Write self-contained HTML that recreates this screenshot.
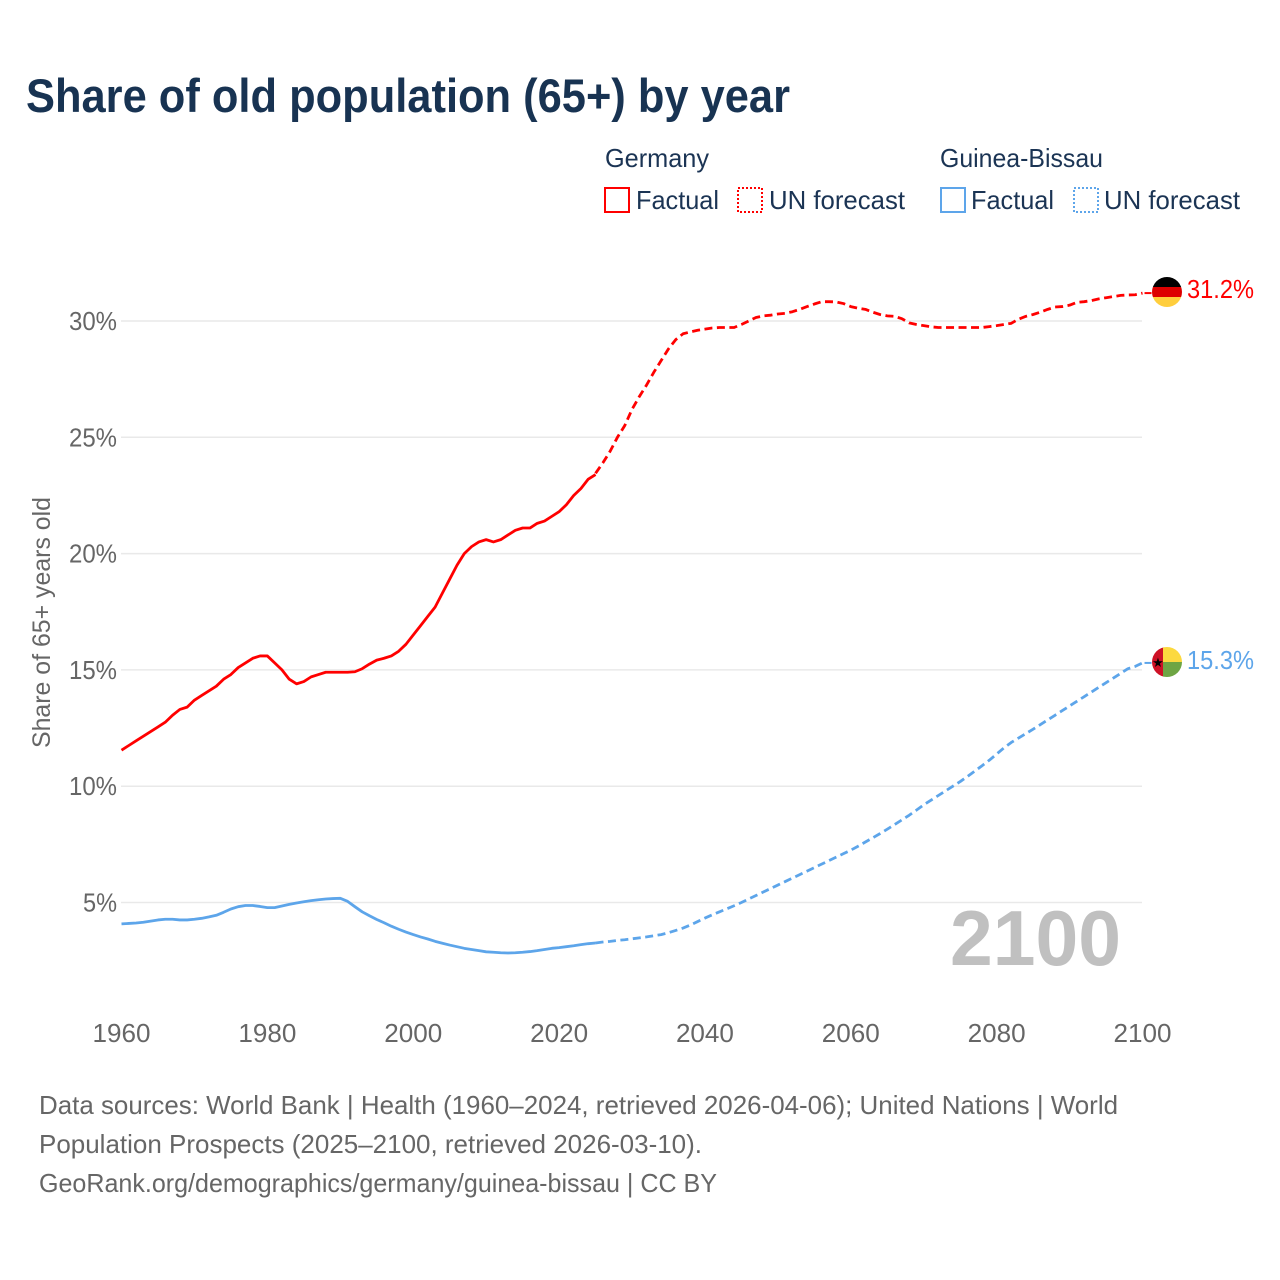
<!DOCTYPE html>
<html lang="en">
<head>
<meta charset="utf-8">
<title>Share of old population (65+) by year</title>
<style>
html,body{margin:0;padding:0;background:#fff;}
svg{display:block;font-family:"Liberation Sans",sans-serif;}
</style>
</head>
<body>
<svg id="chart" xmlns="http://www.w3.org/2000/svg" width="1280" height="1280" viewBox="0 0 1280 1280">
  <defs>
    <clipPath id="flag-clip-de"><circle cx="1167" cy="292" r="15"/></clipPath>
    <clipPath id="flag-clip-gw"><circle cx="1167" cy="662" r="15"/></clipPath>
  </defs>
  <rect x="0" y="0" width="1280" height="1280" fill="#fff"/>
  <text x="26" y="112" font-size="47" font-weight="700" fill="#183352" textLength="764" lengthAdjust="spacingAndGlyphs">Share of old population (65+) by year</text>

  <g font-size="26" fill="#1b3454">
    <text x="605" y="167" textLength="104" lengthAdjust="spacingAndGlyphs">Germany</text>
    <rect x="605" y="188" width="24" height="24" fill="none" stroke="#ff0000" stroke-width="2" shape-rendering="crispEdges"/>
    <text x="636" y="209" textLength="83" lengthAdjust="spacingAndGlyphs">Factual</text>
    <rect x="738" y="188" width="24" height="24" fill="none" stroke="#ff0000" stroke-width="2" stroke-dasharray="2 2" shape-rendering="crispEdges"/>
    <text x="769" y="209" textLength="136" lengthAdjust="spacingAndGlyphs">UN forecast</text>
    <text x="940" y="167" textLength="163" lengthAdjust="spacingAndGlyphs">Guinea-Bissau</text>
    <rect x="941" y="188" width="24" height="24" fill="none" stroke="#5da5ea" stroke-width="2" shape-rendering="crispEdges"/>
    <text x="971" y="209" textLength="83" lengthAdjust="spacingAndGlyphs">Factual</text>
    <rect x="1074" y="188" width="24" height="24" fill="none" stroke="#5da5ea" stroke-width="2" stroke-dasharray="2 2" shape-rendering="crispEdges"/>
    <text x="1104" y="209" textLength="136" lengthAdjust="spacingAndGlyphs">UN forecast</text>
  </g>

  <g id="grid"></g>
  <g id="yticks"></g>
  <g id="xticks"></g>
  <text transform="translate(50,748) rotate(-90)" font-size="25" fill="#666" textLength="251" lengthAdjust="spacingAndGlyphs">Share of 65+ years old</text>
  <text x="950" y="965" font-size="78" font-weight="700" fill="#c0c0c0" textLength="171" lengthAdjust="spacingAndGlyphs">2100</text>
  <g id="series"></g>

  <g clip-path="url(#flag-clip-de)">
    <rect x="1152" y="277" width="30" height="10" fill="#000"/>
    <rect x="1152" y="287" width="30" height="10" fill="#dd0000"/>
    <rect x="1152" y="297" width="30" height="10" fill="#ffce3d"/>
  </g>
  <g clip-path="url(#flag-clip-gw)">
    <rect x="1152" y="647" width="12" height="30" fill="#ce1126"/>
    <rect x="1163" y="647" width="19" height="15" fill="#fcd93f"/>
    <rect x="1163" y="662" width="19" height="15" fill="#6ea544"/>
    <text x="1158" y="667" font-size="13" text-anchor="middle" fill="#000" font-family="'DejaVu Sans',sans-serif">★</text>
  </g>
  <text id="label-de" x="1187" y="298" font-size="26" fill="#ff0000" textLength="67" lengthAdjust="spacingAndGlyphs"></text>
  <text id="label-gw" x="1187" y="669" font-size="26" fill="#5da5ea" textLength="67" lengthAdjust="spacingAndGlyphs"></text>

  <g font-size="26" fill="#666">
    <text x="39" y="1114" textLength="1079" lengthAdjust="spacingAndGlyphs">Data sources: World Bank | Health (1960–2024, retrieved 2026-04-06); United Nations | World</text>
    <text x="39" y="1153" textLength="663" lengthAdjust="spacingAndGlyphs">Population Prospects (2025–2100, retrieved 2026-03-10).</text>
    <text x="39" y="1192" textLength="678" lengthAdjust="spacingAndGlyphs">GeoRank.org/demographics/germany/guinea-bissau | CC BY</text>
  </g>
</svg>

<script>
const yTickValues = [5, 10, 15, 20, 25, 30];
const xTickYears = [1960, 1980, 2000, 2020, 2040, 2060, 2080, 2100];
const factualStartYear = 1960;
const forecastStartYear = 2025;

const germanyFactual = [
  11.55,11.75,11.95,12.15,12.35,12.55,12.75,13.05,13.3,13.4,
  13.7,13.9,14.1,14.3,14.6,14.8,15.1,15.3,15.5,15.6,
  15.6,15.3,15.0,14.6,14.4,14.5,14.7,14.8,14.9,14.9,
  14.9,14.9,14.92,15.05,15.25,15.42,15.5,15.6,15.8,16.1,
  16.5,16.9,17.3,17.7,18.3,18.9,19.5,20.0,20.3,20.5,
  20.6,20.5,20.6,20.8,21.0,21.1,21.1,21.3,21.4,21.6,
  21.8,22.1,22.5,22.8,23.2,23.4
];
const germanyForecast = [
  23.45,23.9,24.4,25.0,25.5,
  26.2,26.75,27.25,27.8,28.3,28.8,29.2,29.45,29.53,29.6,
  29.65,29.7,29.72,29.72,29.72,29.85,30.0,30.15,30.22,30.25,
  30.3,30.33,30.4,30.5,30.62,30.73,30.83,30.83,30.82,30.75,
  30.62,30.55,30.5,30.38,30.28,30.22,30.2,30.1,29.92,29.85,
  29.8,29.75,29.72,29.72,29.72,29.72,29.72,29.72,29.72,29.76,
  29.8,29.85,29.9,30.08,30.2,30.28,30.38,30.5,30.6,30.62,
  30.68,30.8,30.83,30.88,30.95,31.0,31.05,31.1,31.12,31.13,
  31.2
];
const guineaBissauFactual = [
  4.08,4.1,4.12,4.15,4.2,4.25,4.28,4.28,4.25,4.25,
  4.28,4.32,4.38,4.45,4.58,4.72,4.82,4.87,4.87,4.83,
  4.78,4.78,4.85,4.92,4.98,5.03,5.08,5.12,5.15,5.17,
  5.18,5.05,4.82,4.6,4.43,4.27,4.13,3.98,3.85,3.73,
  3.62,3.52,3.43,3.33,3.25,3.17,3.1,3.03,2.98,2.93,
  2.88,2.86,2.84,2.83,2.84,2.86,2.89,2.93,2.98,3.03,
  3.06,3.1,3.14,3.19,3.23,3.26
];
const guineaBissauForecast = [
  3.26,3.3,3.33,3.37,3.4,
  3.44,3.48,3.52,3.57,3.62,3.7,3.8,3.9,4.03,4.18,
  4.33,4.47,4.6,4.73,4.86,5.0,5.15,5.3,5.45,5.6,
  5.75,5.9,6.05,6.2,6.35,6.5,6.65,6.8,6.95,7.1,
  7.25,7.42,7.6,7.78,7.96,8.15,8.35,8.55,8.75,8.97,
  9.2,9.4,9.6,9.8,10.0,10.2,10.42,10.65,10.88,11.12,
  11.38,11.65,11.88,12.07,12.26,12.45,12.65,12.85,13.05,13.25,
  13.45,13.65,13.85,14.05,14.25,14.45,14.65,14.85,15.05,15.15,
  15.3
];
const germanyEndLabel = "31.2%";
const guineaBissauEndLabel = "15.3%";

const NS = "http://www.w3.org/2000/svg";
const X0 = 121.5, PXPERYEAR = 7.293, Y30 = 321, PXPERPCT = 23.26;
function xScale(year) { return X0 + (year - 1960) * PXPERYEAR; }
function yScale(pct) { return Y30 + (30 - pct) * PXPERPCT; }
function make(tag, attrs) {
  const el = document.createElementNS(NS, tag);
  for (const k in attrs) el.setAttribute(k, attrs[k]);
  return el;
}
const grid = document.getElementById("grid");
const yticks = document.getElementById("yticks");
yTickValues.forEach(function (v) {
  const line = make("line", { x1: 121, x2: 1142, y1: yScale(v), y2: yScale(v), stroke: "#e9e9e9", "stroke-width": 1.5 });
  
  
  grid.appendChild(line);
  const label = make("text", { x: 117, y: yScale(v) + 9, "font-size": 26, fill: "#666", "text-anchor": "end" });
  
  
  label.setAttribute('textLength', v < 10 ? 34 : 48);
  label.setAttribute('lengthAdjust', 'spacingAndGlyphs');
  label.textContent = v + "%";
  yticks.appendChild(label);
});
const xticks = document.getElementById("xticks");
xTickYears.forEach(function (yr) {
  const label = make("text", { x: xScale(yr), y: 1042, "font-size": 26, fill: "#666", "text-anchor": "middle" });
  
  
  label.setAttribute('textLength', 58);
  label.setAttribute('lengthAdjust', 'spacingAndGlyphs');
  label.textContent = yr;
  xticks.appendChild(label);
});
function pathFrom(values, startYear) {
  return values.map(function (v, i) {
    return (i ? "L" : "M") + xScale(startYear + i).toFixed(2) + " " + yScale(v).toFixed(2);
  }).join("");
}
const series = document.getElementById("series");
function addLine(values, startYear, color, dashed) {
  const attrs = { d: pathFrom(values, startYear), fill: "none", stroke: color, "stroke-width": 2.8, "stroke-linejoin": "round" };
  if (dashed) attrs["stroke-dasharray"] = "8 4.5";
  const p = make("path", attrs);
  
  
  series.appendChild(p);
  return p;
}
function addConnector(values, color) {
  const last = values[values.length - 1];
  const c = make("line", { x1: xScale(2100) + 2, x2: xScale(2100) + 9, y1: yScale(last), y2: yScale(last), stroke: color, "stroke-width": 2 });
  
  
  series.appendChild(c);
}
addLine(germanyFactual, factualStartYear, "#ff0000", false);
addLine(germanyForecast, forecastStartYear, "#ff0000", true);
addConnector(germanyForecast, "#ff0000");
addLine(guineaBissauFactual, factualStartYear, "#5da5ea", false);
addLine(guineaBissauForecast, forecastStartYear, "#5da5ea", true);
addConnector(guineaBissauForecast, "#5da5ea");
document.getElementById("label-de").textContent = germanyEndLabel;
document.getElementById("label-gw").textContent = guineaBissauEndLabel;
</script>
</body>
</html>
